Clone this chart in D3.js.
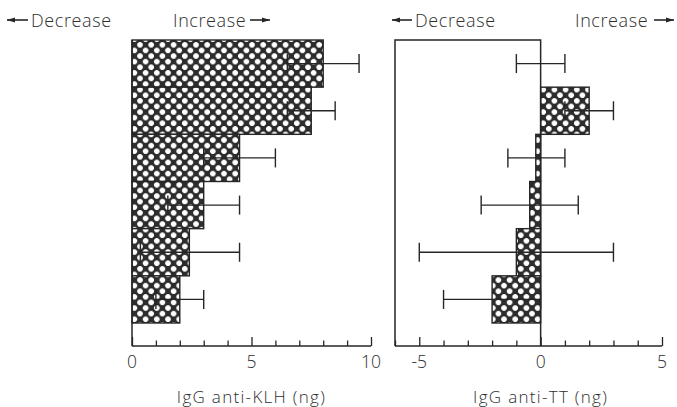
<!DOCTYPE html>
<html>
<head>
<meta charset="utf-8">
<script src="https://cdn.jsdelivr.net/npm/d3@7"></script>
<style>
  body { margin: 0; background: #fff; }
  svg { display: block; }
  text { font-family: "Open Sans", "DejaVu Sans", sans-serif; font-weight: 300; fill: #2e2e2e; }
</style>
</head>
<body>
<svg width="677" height="407"></svg>
<script>
// données (une ligne par groupe, du haut vers le bas)
var groups = [1, 2, 3, 4, 5, 6];

var klhMean = [8, 7.5, 4.5, 3, 2.4, 2];
var klhLow = [6.5, 6.5, 3, 1.5, 0.35, 1];
var klhHigh = [9.5, 8.5, 6, 4.5, 4.5, 3];

var ttMean = [0, 2, -0.2, -0.45, -1, -2];
var ttLow = [-1, 1, -1.35, -2.45, -5, -4];
var ttHigh = [1, 3, 1, 1.55, 3, 0];

var klhTicks = [0, 5, 10];
var ttTicks = [-5, 0, 5];

var svg = d3.select("svg");
var ink = "#262626";

// motif quadrillé des barres
var d = 11.2;
var pat = svg.append("defs").append("pattern")
    .attr("id", "hatch")
    .attr("patternUnits", "userSpaceOnUse")
    .attr("width", d)
    .attr("height", d);
pat.append("rect").attr("width", d).attr("height", d).attr("fill", "#fff");
pat.append("path")
    .attr("d", "M0,0 L" + d + "," + d + " M" + d + ",0 L0," + d +
        " M" + (-d / 2) + "," + (d / 2) + " L" + (d / 2) + "," + (-d / 2) +
        " M" + (d / 2) + "," + (3 * d / 2) + " L" + (3 * d / 2) + "," + (d / 2) +
        " M" + (-d / 2) + "," + (d / 2) + " L" + (d / 2) + "," + (3 * d / 2) +
        " M" + (d / 2) + "," + (-d / 2) + " L" + (3 * d / 2) + "," + (d / 2))
    .attr("stroke", "#2b2b2b").attr("stroke-width", 2.2);
[[d / 2, 0], [0, d / 2], [d, d / 2], [d / 2, d]].forEach(function(p) {
    // on arrondit un peu les trous
    pat.append("circle").attr("cx", p[0]).attr("cy", p[1]).attr("r", 3.6)
        .attr("fill", "none").attr("stroke", "#2b2b2b").attr("stroke-width", 1.4);
});

var y = d3.scaleBand().domain(groups).range([40, 323]).padding(0);
var axisY = 346;

// petite flèche (dir = -1 gauche, 1 droite)
function arrow(x1, x2, yy, dir) {
    var tip = dir < 0 ? x1 : x2;
    svg.append("line")
        .attr("x1", x1).attr("x2", x2).attr("y1", yy).attr("y2", yy)
        .attr("stroke", ink).attr("stroke-width", 1.6);
    svg.append("path")
        .attr("d", "M" + tip + "," + yy + " L" + (tip - dir * 8) + "," + (yy - 2.5) + " L" + (tip - dir * 8) + "," + (yy + 2.5) + " Z")
        .attr("fill", ink);
}

function panel(x, mean, low, high, ticks, titleX, title) {
    var g = svg.append("g");

    // barres
    g.selectAll("rect.bar")
        .data(groups)
        .enter().append("rect")
        .attr("class", "bar")
        .attr("x", function(d, i) { return Math.min(x(0), x(mean[i])); })
        .attr("y", function(d) { return y(d); })
        .attr("width", function(d, i) { return Math.abs(x(mean[i]) - x(0)); })
        .attr("height", y.bandwidth())
        .attr("fill", "url(#hatch)")
        .attr("stroke", ink)
        .attr("stroke-width", 1.4);

    // barres d'erreur
    var err = g.selectAll("g.err")
        .data(groups)
        .enter().append("g")
        .attr("class", "err");
    err.append("line")
        .attr("x1", function(d, i) { return x(low[i]); })
        .attr("x2", function(d, i) { return x(high[i]); })
        .attr("y1", function(d) { return y(d) + y.bandwidth() / 2; })
        .attr("y2", function(d) { return y(d) + y.bandwidth() / 2; })
        .attr("stroke", ink).attr("stroke-width", 1.4);
    [low, high].forEach(function(arr) {
        err.append("line")
            .attr("x1", function(d, i) { return x(arr[i]); })
            .attr("x2", function(d, i) { return x(arr[i]); })
            .attr("y1", function(d) { return y(d) + y.bandwidth() / 2 - 9.5; })
            .attr("y2", function(d) { return y(d) + y.bandwidth() / 2 + 9.5; })
            .attr("stroke", ink).attr("stroke-width", 1.4);
    });

    // axe du bas, graduations vers le haut
    var dom = x.domain();
    var minor = d3.range(Math.ceil(dom[0]), dom[1] + 1);
    var axis = d3.axisTop(x).tickValues(minor).tickSize(5).tickFormat("");
    var ag = g.append("g").attr("transform", "translate(0," + axisY + ")").call(axis);
    ag.select(".domain").remove();
    ag.selectAll(".tick line").attr("stroke", ink).attr("stroke-width", 1.3)
        .attr("y2", function(v) { return ticks.indexOf(v) >= 0 ? -9 : -5.5; });
    g.append("line")
        .attr("x1", x(dom[0])).attr("x2", x(dom[1]))
        .attr("y1", axisY).attr("y2", axisY)
        .attr("stroke", ink).attr("stroke-width", 1.5);

    g.selectAll("text.tl")
        .data(ticks)
        .enter().append("text")
        .attr("class", "tl")
        .attr("x", function(v) { return x(v); })
        .attr("y", 368)
        .attr("text-anchor", "middle")
        .attr("font-size", 17.5)
        .text(function(v) { return v < 0 ? "-" + Math.abs(v) : v; });

    g.append("text")
        .attr("x", titleX)
        .attr("y", 403)
        .attr("text-anchor", "middle")
        .attr("font-size", 17)
        .attr("letter-spacing", 1.3)
        .text(title);
    return g;
}

// panneau gauche : anti-KLH
var xKlh = d3.scaleLinear().domain([0, 10]).range([132, 371]);
var left = panel(xKlh, klhMean, klhLow, klhHigh, klhTicks, xKlh(5), "IgG anti-KLH (ng)");
left.append("line")
    .attr("x1", xKlh(0)).attr("x2", xKlh(0)).attr("y1", 40).attr("y2", axisY)
    .attr("stroke", ink).attr("stroke-width", 1.5);

// panneau droit : anti-TT
var xTt = d3.scaleLinear().domain([-6, 5]).range([395, 662]);
var right = panel(xTt, ttMean, ttLow, ttHigh, ttTicks, xTt(0), "IgG anti-TT (ng)");
right.append("path")
    .attr("d", "M" + xTt(-6) + "," + axisY + " V40 H" + xTt(0) + " V" + axisY)
    .attr("fill", "none").attr("stroke", ink).attr("stroke-width", 1.5);

// en-têtes
function header(x, label) {
    svg.append("text").attr("x", x).attr("y", 26.5)
        .attr("font-size", 18).attr("letter-spacing", 0.6).text(label);
}
header(31, "Decrease");
arrow(7, 28, 20, -1);
header(173, "Increase");
arrow(250, 270, 20, 1);

header(415, "Decrease");
arrow(392, 412, 20, -1);
header(575, "Increase");
arrow(654, 674, 20, 1);
</script>
</body>
</html>
